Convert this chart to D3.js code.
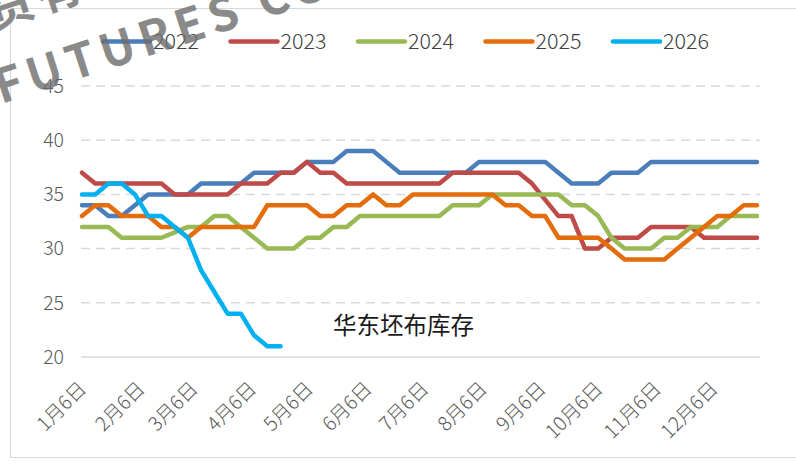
<!DOCTYPE html>
<html>
<head>
<meta charset="utf-8">
<script src="https://cdn.jsdelivr.net/npm/d3@7"></script>
<style>
  body { margin: 0; background: #fff; }
  svg text { font-family: "Noto Sans CJK SC", "Noto Sans", sans-serif; }
</style>
</head>
<body>
<div id="chart"></div>
<script>
const years = ["2022", "2023", "2024", "2025", "2026"];
const colors = ["#4A7EBB", "#BE4B48", "#98B954", "#E46C0A", "#00B0F0"];

const v2022 = [34,34,33,33,34,35,35,35,35,36,36,36,36,37,37,37,37,38,38,38,39,39,39,38,37,37,
               37,37,37,37,38,38,38,38,38,38,37,36,36,36,37,37,37,38,38,38,38,38,38,38,38,38];
const v2023 = [37,36,36,36,36,36,36,35,35,35,35,35,36,36,36,37,37,38,37,37,36,36,36,36,36,36,
               36,36,37,37,37,37,37,37,36,34.5,33,33,30,30,31,31,31,32,32,32,32,31,31,31,31,31];
const v2024 = [32,32,32,31,31,31,31,31.5,32,32,33,33,32,31,30,30,30,31,31,32,32,33,33,33,33,33,
               33,33,34,34,34,35,35,35,35,35,35,34,34,33,31,30,30,30,31,31,32,32,32,33,33,33];
const v2025 = [33,34,34,33,33,33,32,32,31,32,32,32,32,32,34,34,34,34,33,33,34,34,35,34,34,35,
               35,35,35,35,35,35,34,34,33,33,31,31,31,31,30,29,29,29,29,30,31,32,33,33,34,34];
const v2026 = [35,35,36,36,35,33,33,32,31,28,26,24,24,22,21,21];
const seriesValues = [v2022, v2023, v2024, v2025, v2026];

// weekly points starting on 1月6日
const weekDates = d3.range(52).map(i => new Date(2025, 0, 6 + 7 * i));
const tickDates = d3.range(12).map(m => new Date(2025, m, 6));
const tickLabels = ["1月6日", "2月6日", "3月6日", "4月6日", "5月6日", "6月6日",
                    "7月6日", "8月6日", "9月6日", "10月6日", "11月6日", "12月6日"];
const yTicks = [20, 25, 30, 35, 40, 45];

const width = 796;
const height = 462;

const svg = d3.select("#chart").append("svg")
    .attr("width", width)
    .attr("height", height);

// chart frame
svg.append("rect")
    .attr("x", 10.5)
    .attr("y", 8.5)
    .attr("width", 800)
    .attr("height", 449)
    .attr("fill", "#fff")
    .attr("stroke", "#d9d9d9");

const x = d3.scaleTime()
    .domain([weekDates[0], weekDates[51]])
    .range([82, 757]);

const y = d3.scaleLinear()
    .domain([20, 45])
    .range([357, 86]);

// gridlines
svg.append("g")
    .selectAll("line")
    .data(yTicks)
    .join("line")
    .attr("x1", 81)
    .attr("x2", 760)
    .attr("y1", d => y(d))
    .attr("y2", d => y(d))
    .attr("stroke", "#d9d9d9")
    .attr("stroke-width", 1.5)
    .attr("stroke-dasharray", d => d === 20 ? null : "9,6");

// y axis labels
const yAxis = svg.append("g")
    .attr("transform", "translate(64,0)")
    .call(d3.axisLeft(y).tickValues(yTicks).tickSize(0).tickPadding(0));
yAxis.select(".domain").remove();
yAxis.selectAll("text")
    .attr("font-size", 19.5)
    .attr("font-weight", 300)
    .attr("fill", "#595959");

// x axis labels
const xAxis = svg.append("g")
    .attr("transform", "translate(0,357)")
    .call(d3.axisBottom(x).tickValues(tickDates).tickSize(0)
        .tickFormat((d, i) => tickLabels[i]));
xAxis.select(".domain").remove();
xAxis.selectAll("text")
    .attr("font-size", 19.5)
    .attr("font-weight", 300)
    .attr("fill", "#595959")
    .attr("text-anchor", "end")
    .attr("dy", 0)
    .attr("y", 0)
    .attr("transform", "translate(5,33) rotate(-45)");

// series lines
const line = d3.line()
    .x((d, i) => x(weekDates[i]))
    .y(d => y(d));

svg.append("g")
    .selectAll("path")
    .data(seriesValues)
    .join("path")
    .attr("d", d => line(d))
    .attr("fill", "none")
    .attr("stroke", (d, i) => colors[i])
    .attr("stroke-width", 4.5)
    .attr("stroke-linejoin", "round")
    .attr("stroke-linecap", "round");

// legend
const legend = svg.append("g")
    .selectAll("g")
    .data(years)
    .join("g")
    .attr("transform", (d, i) => `translate(${103 + i * 127.5},41.5)`);

legend.append("line")
    .attr("x1", 0)
    .attr("x2", 47)
    .attr("stroke", (d, i) => colors[i])
    .attr("stroke-width", 4.5)
    .attr("stroke-linecap", "round");

legend.append("text")
    .attr("x", 50)
    .attr("dy", "0.35em")
    .attr("font-size", 21.5)
    .attr("font-weight", 300)
    .attr("fill", "#404040")
    .text(d => d);

// annotation
svg.append("text")
    .attr("x", 333)
    .attr("y", 334)
    .attr("font-size", 23.5)
    .attr("fill", "#1a1a1a")
    .text("华东坯布库存");

// watermark
const mark = svg.append("g")
    .attr("transform", "translate(1,104) rotate(-18)")
    .attr("fill", "#6e6e6e")
    .attr("opacity", 0.8)
    .attr("font-weight", "bold")
    .attr("font-size", 47);

mark.append("text")
    .attr("font-family", "'Liberation Sans', Arial, sans-serif")
    .attr("letter-spacing", 6)
    .text("FUTURES CO., LTD");

mark.append("text")
    .attr("x", 15)
    .attr("y", -74)
    .attr("letter-spacing", 4)
    .text("货有限公司");
</script>
</body>
</html>
